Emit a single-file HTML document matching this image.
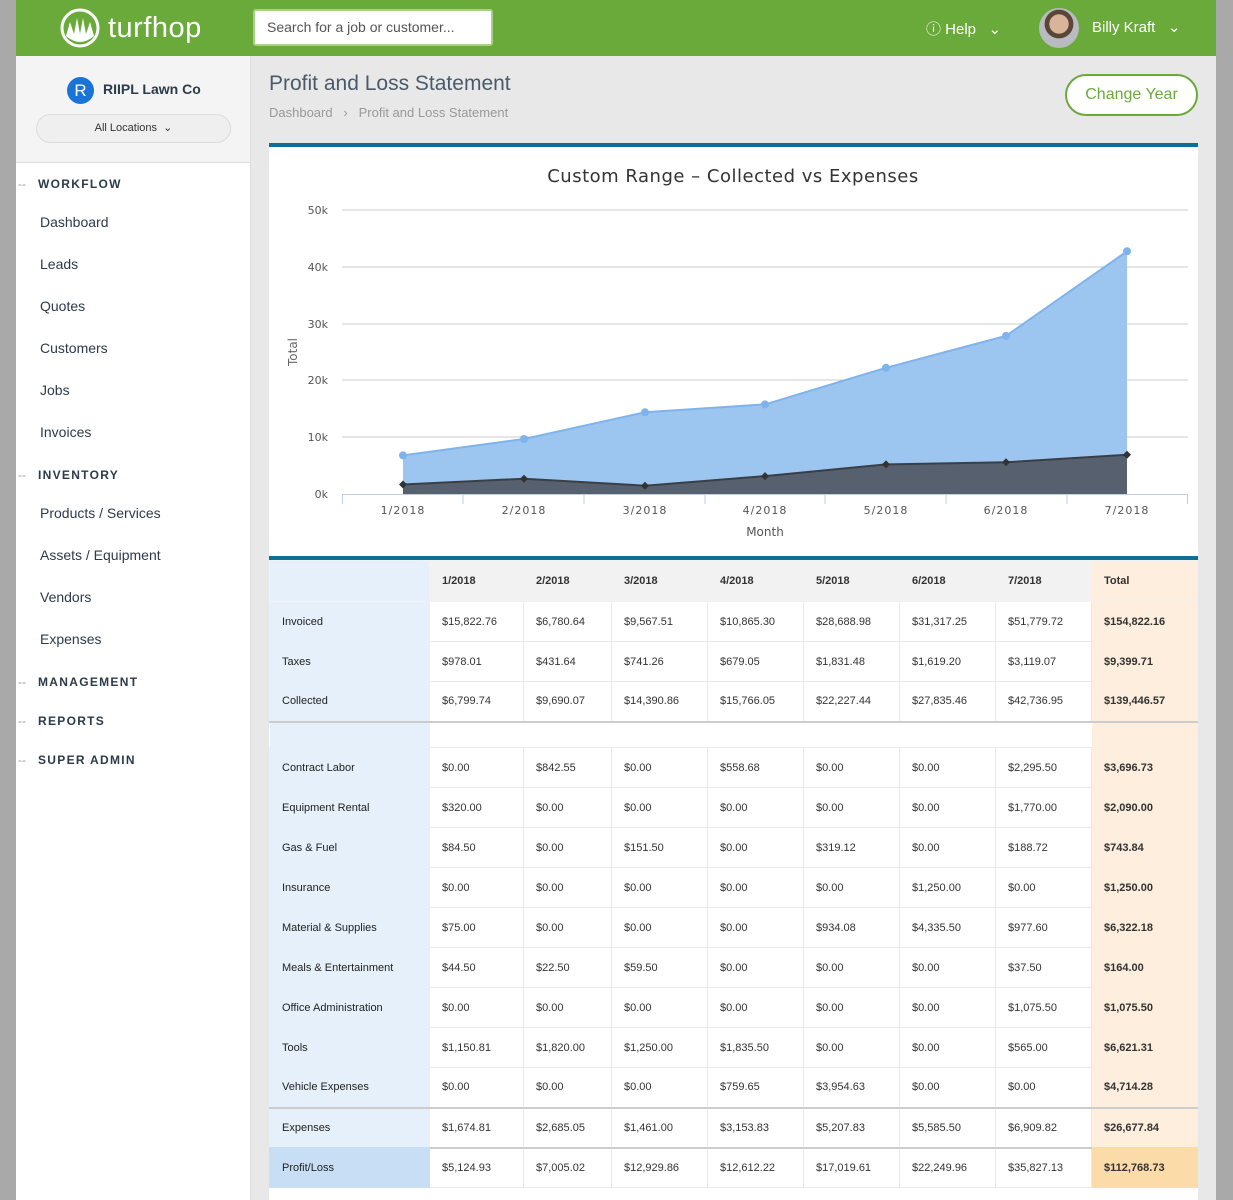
<!DOCTYPE html>
<html><head><meta charset="utf-8"><style>
*{box-sizing:border-box;margin:0;padding:0}
body{width:1233px;height:1200px;overflow:hidden;background:#a9a9a9;font-family:"Liberation Sans",sans-serif;position:relative}
.abs{position:absolute}
#hdr{left:16px;top:0;width:1200px;height:56px;background:#6aaa3a}
#main{left:251px;top:56px;width:965px;height:1144px;background:#e8e8e8}
#side{left:16px;top:56px;width:235px;height:1144px;background:#fff;border-right:1px solid #ddd}
#sidetop{left:0;top:0;width:234px;height:107px;background:#f4f4f4;border-bottom:1px solid #ddd}
.nav{position:absolute;left:24px;font-size:14px;color:#2c3a4a}
.sec{position:absolute;left:22px;font-size:12px;letter-spacing:1.3px;font-weight:bold;color:#2c3a4a}
.sec:before{content:"--";position:absolute;left:-20px;color:#999;font-weight:normal;letter-spacing:0}
table{border-collapse:collapse;table-layout:fixed;font-size:11px;color:#333}
td{border:1px solid #eaeaea;padding-left:12px;height:40px;vertical-align:middle}
td.l{background:#e5f0fa;border-color:#e5f0fa;font-weight:normal;color:#222}
td.t{background:#fdeedd;border-color:#fdeedd;font-weight:bold}
tr.h td{background:#f2f2f2;height:41px;font-weight:bold;border-color:#f2f2f2}
tr.h td.l{background:#e5f0fa}
tr.h td.t{background:#fdeedd}
tr.sep td{border-top:2px solid #ccc}
tr.blank td{height:26px;border-left:none;border-right:none}
tr.p td.l{background:#c7def5;border-color:#c7def5}
tr.p td.t{background:#fbdba8;border-color:#fbdba8}
</style></head><body>
<div id="hdr" class="abs">
 <svg class="abs" style="left:44px;top:8px" width="40" height="40"><circle cx="20" cy="20" r="18" fill="none" stroke="#fff" stroke-width="3"/><path d="M6 28 L10 14 L14 26 L17 10 L20 26 L23 10 L26 26 L30 14 L34 28 Q20 40 6 28Z" fill="#fff"/></svg>
 <div class="abs" style="left:92px;top:12px;font-size:29px;color:#fff;letter-spacing:0.5px">turfhop</div>
 <div class="abs" style="left:237px;top:9px;width:240px;height:37px;background:#fff;border:2px solid #a8d08a;border-radius:3px;font-size:14px;color:#555;padding:8px 12px">Search for a job or customer...</div>
 <div class="abs" style="left:910px;top:18px;font-size:15px;color:#fff">&#9432; Help &nbsp;&nbsp;&#8964;</div>
 <div class="abs" style="left:1023px;top:8px;width:40px;height:40px;border-radius:50%;background:radial-gradient(circle at 50% 40%,#d9b49a 0 30%,#5a4638 32% 45%,#b8bcc0 47%)"></div>
 <div class="abs" style="left:1076px;top:18px;font-size:15px;color:#fff">Billy Kraft &nbsp;&nbsp;&#8964;</div>
</div>
<div id="side" class="abs">
 <div id="sidetop" class="abs">
  <div class="abs" style="left:51px;top:21px;width:27px;height:27px;border-radius:50%;background:#1a73d9;color:#fff;font-size:17px;text-align:center;line-height:27px">R</div>
  <div class="abs" style="left:87px;top:25px;font-size:14px;font-weight:bold;color:#2c3a4a">RIIPL Lawn Co</div>
  <div class="abs" style="left:20px;top:58px;width:195px;height:29px;border:1px solid #ddd;border-radius:15px;background:#efefef;font-size:11px;color:#333;text-align:center;line-height:27px">All Locations &nbsp;&#8964;</div>
 </div>
 <div class="sec" style="top:121px">WORKFLOW</div>
 <div class="nav" style="top:158px">Dashboard</div>
 <div class="nav" style="top:200px">Leads</div>
 <div class="nav" style="top:242px">Quotes</div>
 <div class="nav" style="top:284px">Customers</div>
 <div class="nav" style="top:326px">Jobs</div>
 <div class="nav" style="top:368px">Invoices</div>
 <div class="sec" style="top:412px">INVENTORY</div>
 <div class="nav" style="top:449px">Products / Services</div>
 <div class="nav" style="top:491px">Assets / Equipment</div>
 <div class="nav" style="top:533px">Vendors</div>
 <div class="nav" style="top:575px">Expenses</div>
 <div class="sec" style="top:619px">MANAGEMENT</div>
 <div class="sec" style="top:658px">REPORTS</div>
 <div class="sec" style="top:697px">SUPER ADMIN</div>
</div>
<div id="main" class="abs"></div>
<div class="abs" style="left:269px;top:72px;font-size:21px;color:#4a5a6a">Profit and Loss Statement</div>
<div class="abs" style="left:269px;top:105px;font-size:13px;color:#999">Dashboard &nbsp;&nbsp;&#8250;&nbsp;&nbsp; Profit and Loss Statement</div>
<div class="abs" style="left:1065px;top:74px;width:133px;height:42px;border:2px solid #6aaa3a;border-radius:21px;background:#fff;color:#6aaa3a;font-size:16px;text-align:center;line-height:38px">Change Year</div>
<div class="abs" style="left:269px;top:143px;width:929px;height:1057px;background:#fff;border-top:4px solid #0e6e93"></div>
<svg class="abs" style="left:0;top:0" width="1233" height="560">
 <text x="733" y="182" font-size="18" fill="#333" text-anchor="middle" font-family="DejaVu Sans, sans-serif" letter-spacing="0.5">Custom Range – Collected vs Expenses</text>
 <g stroke="#ccc" stroke-width="1">
  <line x1="342" x2="1188" y1="210" y2="210"/><line x1="342" x2="1188" y1="267" y2="267"/>
  <line x1="342" x2="1188" y1="324" y2="324"/><line x1="342" x2="1188" y1="380" y2="380"/>
  <line x1="342" x2="1188" y1="437" y2="437"/>
 </g>
 <g font-size="11" fill="#555" text-anchor="end" font-family="DejaVu Sans, sans-serif">
  <text x="328" y="214">50k</text><text x="328" y="271">40k</text><text x="328" y="328">30k</text>
  <text x="328" y="384">20k</text><text x="328" y="441">10k</text><text x="328" y="498">0k</text>
 </g>
 <text transform="translate(297,352) rotate(-90)" font-size="12" fill="#666" text-anchor="middle" font-family="DejaVu Sans, sans-serif">Total</text>
 <polygon points="403,494 403,455.4 524,439 645,412.3 765,404.4 886,367.8 1006,335.9 1127,251.3 1127,494" fill="#9cc5f0"/>
 <polyline points="403,455.4 524,439 645,412.3 765,404.4 886,367.8 1006,335.9 1127,251.3" fill="none" stroke="#7fb3ec" stroke-width="2"/>
 <g fill="#7fb3ec"><circle cx="403" cy="455.4" r="4"/><circle cx="524" cy="439" r="4"/><circle cx="645" cy="412.3" r="4"/><circle cx="765" cy="404.4" r="4"/><circle cx="886" cy="367.8" r="4"/><circle cx="1006" cy="335.9" r="4"/><circle cx="1127" cy="251.3" r="4"/></g>
 <polygon points="403,494 403,484.5 524,478.7 645,485.7 765,476.1 886,464.4 1006,462.3 1127,454.8 1127,494" fill="#56606e"/>
 <polyline points="403,484.5 524,478.7 645,485.7 765,476.1 886,464.4 1006,462.3 1127,454.8" fill="none" stroke="#3a3f47" stroke-width="2"/>
 <g fill="#333"><path d="M403 480.5l4 4-4 4-4-4z"/><path d="M524 474.7l4 4-4 4-4-4z"/><path d="M645 481.7l4 4-4 4-4-4z"/><path d="M765 472.1l4 4-4 4-4-4z"/><path d="M886 460.4l4 4-4 4-4-4z"/><path d="M1006 458.3l4 4-4 4-4-4z"/><path d="M1127 450.8l4 4-4 4-4-4z"/></g>
 <g stroke="#c0cfe0"><line x1="342" x2="1188" y1="494.5" y2="494.5"/>
  <line x1="342.5" x2="342.5" y1="494" y2="504"/><line x1="463" x2="463" y1="494" y2="504"/><line x1="584" x2="584" y1="494" y2="504"/><line x1="705" x2="705" y1="494" y2="504"/><line x1="825" x2="825" y1="494" y2="504"/><line x1="946" x2="946" y1="494" y2="504"/><line x1="1067" x2="1067" y1="494" y2="504"/><line x1="1187.5" x2="1187.5" y1="494" y2="504"/></g>
 <g font-size="11" fill="#555" text-anchor="middle" font-family="DejaVu Sans, sans-serif" letter-spacing="1">
  <text x="403" y="514">1/2018</text><text x="524" y="514">2/2018</text><text x="645" y="514">3/2018</text><text x="765" y="514">4/2018</text><text x="886" y="514">5/2018</text><text x="1006" y="514">6/2018</text><text x="1127" y="514">7/2018</text>
 </g>
 <text x="765" y="536" font-size="12" fill="#555" text-anchor="middle" font-family="DejaVu Sans, sans-serif">Month</text>
</svg>
<div class="abs" style="left:269px;top:556px;width:929px;border-top:4px solid #0e6e93;overflow:hidden">
<table style="width:929px">
<colgroup><col style="width:160px"><col style="width:94px"><col style="width:88px"><col style="width:96px"><col style="width:96px"><col style="width:96px"><col style="width:96px"><col style="width:96px"><col style="width:107px"></colgroup>
<tr class="h"><td class="l"></td><td>1/2018</td><td>2/2018</td><td>3/2018</td><td>4/2018</td><td>5/2018</td><td>6/2018</td><td>7/2018</td><td class="t">Total</td></tr>
<tr><td class="l">Invoiced</td><td>$15,822.76</td><td>$6,780.64</td><td>$9,567.51</td><td>$10,865.30</td><td>$28,688.98</td><td>$31,317.25</td><td>$51,779.72</td><td class="t">$154,822.16</td></tr>
<tr><td class="l">Taxes</td><td>$978.01</td><td>$431.64</td><td>$741.26</td><td>$679.05</td><td>$1,831.48</td><td>$1,619.20</td><td>$3,119.07</td><td class="t">$9,399.71</td></tr>
<tr><td class="l">Collected</td><td>$6,799.74</td><td>$9,690.07</td><td>$14,390.86</td><td>$15,766.05</td><td>$22,227.44</td><td>$27,835.46</td><td>$42,736.95</td><td class="t">$139,446.57</td></tr>
<tr class="sep blank"><td class="l"></td><td></td><td></td><td></td><td></td><td></td><td></td><td></td><td class="t"></td></tr>
<tr><td class="l">Contract Labor</td><td>$0.00</td><td>$842.55</td><td>$0.00</td><td>$558.68</td><td>$0.00</td><td>$0.00</td><td>$2,295.50</td><td class="t">$3,696.73</td></tr>
<tr><td class="l">Equipment Rental</td><td>$320.00</td><td>$0.00</td><td>$0.00</td><td>$0.00</td><td>$0.00</td><td>$0.00</td><td>$1,770.00</td><td class="t">$2,090.00</td></tr>
<tr><td class="l">Gas &amp; Fuel</td><td>$84.50</td><td>$0.00</td><td>$151.50</td><td>$0.00</td><td>$319.12</td><td>$0.00</td><td>$188.72</td><td class="t">$743.84</td></tr>
<tr><td class="l">Insurance</td><td>$0.00</td><td>$0.00</td><td>$0.00</td><td>$0.00</td><td>$0.00</td><td>$1,250.00</td><td>$0.00</td><td class="t">$1,250.00</td></tr>
<tr><td class="l">Material &amp; Supplies</td><td>$75.00</td><td>$0.00</td><td>$0.00</td><td>$0.00</td><td>$934.08</td><td>$4,335.50</td><td>$977.60</td><td class="t">$6,322.18</td></tr>
<tr><td class="l">Meals &amp; Entertainment</td><td>$44.50</td><td>$22.50</td><td>$59.50</td><td>$0.00</td><td>$0.00</td><td>$0.00</td><td>$37.50</td><td class="t">$164.00</td></tr>
<tr><td class="l">Office Administration</td><td>$0.00</td><td>$0.00</td><td>$0.00</td><td>$0.00</td><td>$0.00</td><td>$0.00</td><td>$1,075.50</td><td class="t">$1,075.50</td></tr>
<tr><td class="l">Tools</td><td>$1,150.81</td><td>$1,820.00</td><td>$1,250.00</td><td>$1,835.50</td><td>$0.00</td><td>$0.00</td><td>$565.00</td><td class="t">$6,621.31</td></tr>
<tr><td class="l">Vehicle Expenses</td><td>$0.00</td><td>$0.00</td><td>$0.00</td><td>$759.65</td><td>$3,954.63</td><td>$0.00</td><td>$0.00</td><td class="t">$4,714.28</td></tr>
<tr class="sep"><td class="l">Expenses</td><td>$1,674.81</td><td>$2,685.05</td><td>$1,461.00</td><td>$3,153.83</td><td>$5,207.83</td><td>$5,585.50</td><td>$6,909.82</td><td class="t">$26,677.84</td></tr>
<tr class="sep p"><td class="l">Profit/Loss</td><td>$5,124.93</td><td>$7,005.02</td><td>$12,929.86</td><td>$12,612.22</td><td>$17,019.61</td><td>$22,249.96</td><td>$35,827.13</td><td class="t">$112,768.73</td></tr>
</table></div>
</body></html>
